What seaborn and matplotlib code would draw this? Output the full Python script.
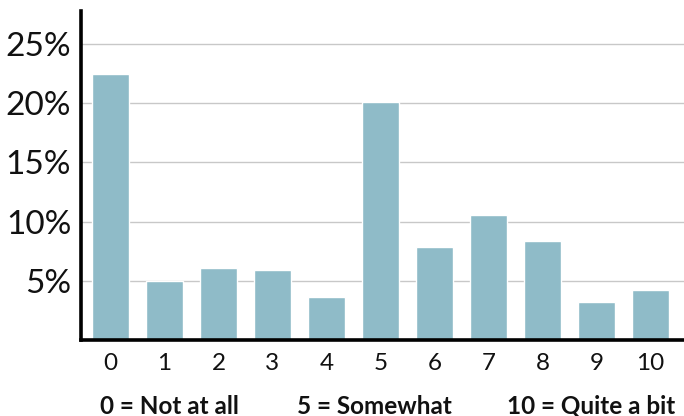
import matplotlib
matplotlib.use("Agg")
import matplotlib.pyplot as plt
import seaborn as sns
import pandas as pd

# response scale and share of respondents (%)
scores = ["0", "1", "2", "3", "4", "5", "6", "7", "8", "9", "10"]
shares = [22.5, 5.0, 6.1, 5.9, 3.6, 20.1, 7.9, 10.6, 8.4, 3.2, 4.2]
ytick_vals = [5, 10, 15, 20, 25]
ytick_labels = ["5%", "10%", "15%", "20%", "25%"]
anchors = ["0 = Not at all", "5 = Somewhat", "10 = Quite a bit"]

sns.set_theme(style="white")
plt.rcParams["font.family"] = ["Lato", "DejaVu Sans"]

df = pd.DataFrame({"score": scores, "share": shares})

fig = plt.figure(figsize=(6.84, 4.16), dpi=100)
ax = fig.add_axes([81 / 684, 76 / 416, 603 / 684, 329 / 416])

sns.barplot(data=df, x="score", y="share", color="#8fbbc8", saturation=1,
            width=0.685, ax=ax, zorder=2)

ax.set_xlim(-0.546, 10.62)
ax.set_ylim(0, 27.8)
ax.set_yticks(ytick_vals)
ax.set_yticklabels(ytick_labels)
ax.yaxis.grid(True, color="#c8c8c8", linewidth=1.0, zorder=0)
ax.set_axisbelow(True)
ax.tick_params(axis="y", length=0, pad=7, labelsize=24, labelcolor="#111111")
ax.tick_params(axis="x", length=0, pad=9, labelsize=17.5, labelcolor="#111111")
ax.set_xlabel("")
ax.set_ylabel("")

for side in ["top", "right"]:
    ax.spines[side].set_visible(False)
for side in ["left", "bottom"]:
    ax.spines[side].set_color("black")
    ax.spines[side].set_linewidth(2.6)

for x, txt in zip([100, 297, 507], anchors):
    fig.text(x / 684, 1 - 406 / 416, txt, fontsize=17.5, fontweight="bold",
             ha="left", va="center", color="#111111")

fig.savefig("out.png", dpi=100)
